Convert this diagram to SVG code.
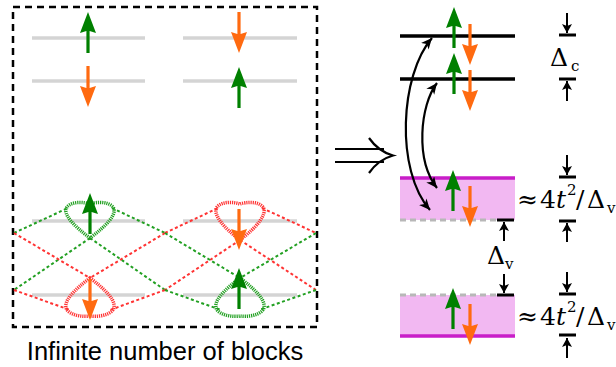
<svg xmlns="http://www.w3.org/2000/svg" xmlns:xlink="http://www.w3.org/1999/xlink" width="616" height="367" viewBox="0 0 616 367">
<style>
.lvl{stroke:#d4d4d4;stroke-width:3.5;fill:none}
.gdot{stroke:#22a022;stroke-width:2;stroke-dasharray:3,2.5;fill:none}
.rdot{stroke:#ff3333;stroke-width:2;stroke-dasharray:3,2.5;fill:none}
.globe{stroke:#22a022;stroke-width:3.5;stroke-dasharray:1.2,0.9;fill:none}
.rlobe{stroke:#ff3333;stroke-width:3.5;stroke-dasharray:1.2,0.9;fill:none}
.blk{stroke:#000;stroke-width:3.5;fill:none}
.mag{stroke:#c81ec8;stroke-width:3.5;fill:none}
.band{fill:#f2b8f2;stroke:none}
.gdash{stroke:#b8b8b8;stroke-width:3;stroke-dasharray:6,4;fill:none}
.bar{stroke:#000;stroke-width:3;fill:none}
.sm{stroke:#000;stroke-width:2;fill:none;marker-end:url(#ah)}
.cur{stroke:#000;stroke-width:2.2;fill:none;marker-start:url(#ch);marker-end:url(#ch)}
.math{font-family:"DejaVu Serif","Liberation Serif",serif;font-size:25px;fill:#000}
.sub{font-family:"DejaVu Serif","Liberation Serif",serif;font-size:15px;fill:#000}
.lab{font-family:"Liberation Sans",Arial,sans-serif;font-size:25.5px;fill:#000}
</style>
<defs>
<path id="up" d="M0,0 L8,21 L1.6,19 L1.6,41 L-1.6,41 L-1.6,19 L-8,21 Z" fill="#008000"/>
<path id="dn" d="M0,0 L8,-21 L1.6,-19 L1.6,-41 L-1.6,-41 L-1.6,-19 L-8,-21 Z" fill="#ff6a10"/>
<marker id="ah" markerUnits="userSpaceOnUse" markerWidth="12" markerHeight="12" refX="9" refY="5" orient="auto">
<path d="M0,0 L9,5 L0,10 L2,5 Z" fill="#000"/>
</marker>
<marker id="ch" markerUnits="userSpaceOnUse" markerWidth="14" markerHeight="12" refX="11" refY="5" orient="auto-start-reverse">
<path d="M0,0 L11,5 L0,10 L3,5 Z" fill="#000"/>
</marker>
</defs>

<g id="block-box">
<rect x="13" y="7" width="304" height="320" fill="none" stroke="#000" stroke-width="2.5" stroke-dasharray="7,5"/>
</g>

<g id="top-levels">
<line class="lvl" x1="32" y1="38" x2="145" y2="38"/>
<line class="lvl" x1="183" y1="38" x2="297" y2="38"/>
<line class="lvl" x1="32" y1="81" x2="145" y2="81"/>
<line class="lvl" x1="183" y1="81" x2="297" y2="81"/>
<use href="#up" x="88" y="12"/>
<use href="#dn" x="88" y="107"/>
<use href="#dn" x="239" y="53"/>
<use href="#up" x="239" y="67"/>
</g>

<g id="bottom-levels">
<line class="lvl" x1="32" y1="221" x2="145" y2="221"/>
<line class="lvl" x1="183" y1="221" x2="297" y2="221"/>
<line class="lvl" x1="32" y1="295" x2="145" y2="295"/>
<line class="lvl" x1="183" y1="295" x2="297" y2="295"/>
</g>

<g id="wavefunctions">
<path class="gdot" d="M14,233 L68,208 M112,208 L165,233 M90,238 L14,290 M90,238 L165,290"/>
<path class="globe" d="M90,238 C74,226 62,214 67,207 C72,201 84,202 90,204 C96,202 108,201 113,207 C118,214 106,226 90,238 Z"/>
<path class="rdot" d="M14,233 L90,278 M165,233 L90,278 M14,290 L70,310 M165,290 L110,310"/>
<path class="rlobe" d="M90,278 C74,290 62,302 67,310 C72,316 84,317 90,316 C96,317 108,316 113,310 C118,302 106,290 90,278 Z"/>
<path class="rdot" d="M165,233 L218,208 M262,208 L316,233 M240,240 L165,290 M240,240 L316,290"/>
<path class="rlobe" d="M240,240 C224,228 212,214 217,207 C222,201 234,202 240,204 C246,202 258,201 263,207 C268,214 256,228 240,240 Z"/>
<path class="gdot" d="M165,233 L240,278 M316,233 L240,278 M165,290 L221,310 M316,290 L259,310"/>
<path class="globe" d="M240,278 C224,290 212,302 217,310 C222,316 234,317 240,316 C246,317 258,316 263,310 C268,302 256,290 240,278 Z"/>
</g>
<g id="bottom-spins">
<use href="#up" x="90" y="193"/>
<use href="#dn" x="90" y="320"/>
<use href="#dn" x="239" y="250"/>
<use href="#up" x="239" y="268"/>
</g>

<text class="lab" x="165" y="360" text-anchor="middle">Infinite number of blocks</text>

<g id="implies">
<path d="M335,149 H384 M335,162 H384 M369,138 C376,148 384,153 393,155.5 C384,158 376,163 369,173" stroke="#000" stroke-width="2.2" fill="none"/>
</g>

<g id="conduction-levels">
<line class="blk" x1="400" y1="36" x2="515" y2="36"/>
<line class="blk" x1="400" y1="79" x2="515" y2="79"/>
<use href="#up" x="454" y="7"/>
<use href="#dn" x="470" y="65"/>
<use href="#up" x="454" y="53"/>
<use href="#dn" x="470" y="111"/>
</g>

<g id="band-upper">
<rect class="band" x="400" y="178" width="115" height="42"/>
<line class="mag" x1="400" y1="178" x2="515" y2="178"/>
<line class="gdash" x1="400" y1="220" x2="497" y2="220"/>
<line class="bar" x1="497" y1="220" x2="514" y2="220"/>
<use href="#up" x="453" y="170"/>
<use href="#dn" x="470" y="227"/>
</g>

<g id="band-lower">
<rect class="band" x="400" y="295" width="115" height="41"/>
<line class="mag" x1="400" y1="336" x2="515" y2="336"/>
<line class="gdash" x1="400" y1="295" x2="497" y2="295"/>
<line class="bar" x1="497" y1="295" x2="514" y2="295"/>
<use href="#up" x="453" y="288"/>
<use href="#dn" x="470" y="345"/>
</g>

<g id="connectors">
<path class="cur" d="M432,38 C400,75 395,170 430,210"/>
<path class="cur" d="M437,83 C420,105 415,160 437,188"/>
<line class="sm" x1="567" y1="13" x2="567" y2="33"/>
<line class="sm" x1="567" y1="101" x2="567" y2="81"/>
<line class="sm" x1="567" y1="155" x2="567" y2="175"/>
<line class="sm" x1="567" y1="242" x2="567" y2="223"/>
<line class="sm" x1="567" y1="272" x2="567" y2="292"/>
<line class="sm" x1="567" y1="358" x2="567" y2="338"/>
<line class="sm" x1="504" y1="241" x2="504" y2="222"/>
<line class="sm" x1="504" y1="274" x2="504" y2="293"/>
</g>

<g id="gap-bars">
<line class="bar" x1="559" y1="35" x2="576" y2="35"/>
<line class="bar" x1="559" y1="79" x2="576" y2="79"/>
<line class="bar" x1="559" y1="177" x2="576" y2="177"/>
<line class="bar" x1="559" y1="221" x2="576" y2="221"/>
<line class="bar" x1="559" y1="294" x2="576" y2="294"/>
<line class="bar" x1="559" y1="335" x2="576" y2="335"/>
</g>

<g id="labels">
<text class="math" x="550" y="66">Δ</text><text class="sub" x="571" y="71">c</text>
<text class="math" x="487" y="264">Δ</text><text class="sub" x="505" y="269">v</text>
<text class="math" y="208"><tspan x="517">≈</tspan><tspan x="540">4</tspan><tspan x="556" font-style="italic">t</tspan><tspan x="567" y="195" font-size="15">2</tspan><tspan x="576" y="208">/</tspan><tspan x="587">Δ</tspan></text><text class="sub" x="607" y="213">v</text>
<text class="math" y="325"><tspan x="517">≈</tspan><tspan x="540">4</tspan><tspan x="556" font-style="italic">t</tspan><tspan x="567" y="312" font-size="15">2</tspan><tspan x="576" y="325">/</tspan><tspan x="587">Δ</tspan></text><text class="sub" x="607" y="330">v</text>
</g>
</svg>
